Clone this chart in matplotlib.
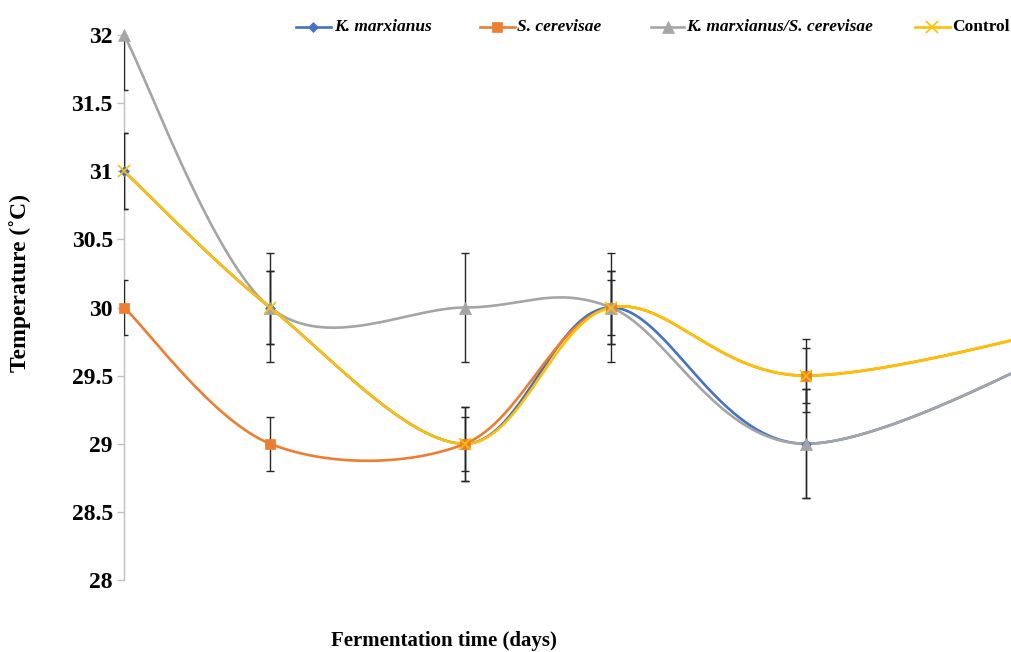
import numpy as np
import matplotlib
matplotlib.use("Agg")
import matplotlib.pyplot as plt
from matplotlib.lines import Line2D

# Fermentation time (days) and mean temperatures (°C)
days = [0, 3, 7, 10, 14, 21]
k_marxianus = [31, 30, 29, 30, 29, 30]
s_cerevisae = [30, 29, 29, 30, 29.5, 30]
km_sc = [32, 30, 30, 30, 29, 30]
control = [31, 30, 29, 30, 29.5, 30]

# Standard deviations
k_marxianus_err = [0.28, 0.27, 0.27, 0.27, 0.4, 0.27]
s_cerevisae_err = [0.2, 0.2, 0.2, 0.2, 0.2, 0.2]
km_sc_err = [0.4, 0.4, 0.4, 0.4, 0.4, 0.4]
control_err = [0.28, 0.27, 0.27, 0.27, 0.27, 0.27]

series_names = ["K. marxianus", "S. cerevisae", "K. marxianus/S. cerevisae", "Control"]
colors = ["#4472C4", "#ED7D31", "#A5A5A5", "#FFC000"]
markers = ["D", "s", "^", "x"]
msizes = [5, 7, 8, 8]
y_ticks = [28, 28.5, 29, 29.5, 30, 30.5, 31, 31.5, 32]

serif = ["Liberation Serif", "DejaVu Serif"]


def smooth_curve(x, y, n=60):
    """Cubic Bezier smoothing through the points (spreadsheet-style smoothed lines)."""
    P = np.column_stack([x, y]).astype(float)
    ext = np.vstack([P[0], P, P[-1]])
    pieces = []
    t = np.linspace(0, 1, n)[:, None]
    for i in range(len(P) - 1):
        p0, p3 = P[i], P[i + 1]
        c1 = p0 + (ext[i + 2] - ext[i]) / 6.0
        c2 = p3 - (ext[i + 3] - ext[i + 1]) / 6.0
        seg = ((1 - t) ** 3) * p0 + 3 * ((1 - t) ** 2) * t * c1 \
            + 3 * (1 - t) * t ** 2 * c2 + t ** 3 * p3
        pieces.append(seg if i == 0 else seg[1:])
    return np.vstack(pieces)


W, H = 1012, 652
fig = plt.figure(figsize=(W / 100, H / 100), dpi=100)
ax = fig.add_axes([124 / W, 1 - 580 / H, (W - 124) / W, (580 - 35) / H])

all_vals = [k_marxianus, s_cerevisae, km_sc, control]
all_errs = [k_marxianus_err, s_cerevisae_err, km_sc_err, control_err]

for vals, errs, c, m, ms in zip(all_vals, all_errs, colors, markers, msizes):
    curve = smooth_curve(days, vals)
    ax.plot(curve[:, 0], curve[:, 1], color=c, lw=1.9, zorder=2,
            solid_capstyle="round")
    ax.errorbar(days, vals, yerr=errs, fmt="none", ecolor="#262626",
                elinewidth=1.0, capsize=3.2, capthick=1.0, zorder=3)
    ax.plot(days, vals, linestyle="none", marker=m, markersize=ms,
            color=c, markeredgecolor=c, markeredgewidth=1.2 if m == "x" else 0.5,
            zorder=4, clip_on=False)

ax.set_xlim(0, (W - 124) / ((806 - 124) / 14))
ax.set_ylim(28, 32)
ax.set_yticks(y_ticks)
ax.set_yticklabels([f"{v:g}" for v in y_ticks], fontfamily=serif,
                   fontweight="bold", fontsize=17)
ax.set_xticks([])
for s in ["top", "right", "bottom"]:
    ax.spines[s].set_visible(False)
ax.spines["left"].set_color("#BFBFBF")
ax.spines["left"].set_linewidth(1.0)
ax.tick_params(axis="y", direction="out", length=5, width=1,
               color="#BFBFBF", pad=3)

fig.text(20 / W, 1 - 283 / H, "Temperature (˚C)", rotation=90,
         ha="center", va="center", fontfamily=serif, fontweight="bold",
         fontsize=17)
fig.text(444 / W, 1 - 641 / H, "Fermentation time (days)", ha="center",
         va="center", fontfamily=serif, fontweight="bold", fontsize=15)

# Legend row across the top
handle_x = [(296, 331), (480, 515), (651, 684), (915, 950)]
text_x = [334, 517, 686, 952]
ly = 1 - 27 / H
for name, c, m, ms, (hx0, hx1), tx in zip(series_names, colors, markers,
                                           msizes, handle_x, text_x):
    fig.add_artist(Line2D([hx0 / W, hx1 / W], [ly, ly], color=c, lw=1.9,
                          transform=fig.transFigure))
    fig.add_artist(Line2D([(hx0 + hx1) / 2 / W], [ly], marker=m,
                          markersize=ms, color=c, markeredgecolor=c,
                          markeredgewidth=1.2 if m == "x" else 0.5,
                          linestyle="none", transform=fig.transFigure))
    style = "normal" if name == "Control" else "italic"
    fig.text(tx / W, ly, name, ha="left", va="center", fontfamily=serif,
             fontweight="bold", fontstyle=style, fontsize=12.5)

fig.savefig("out.png", dpi=100)
